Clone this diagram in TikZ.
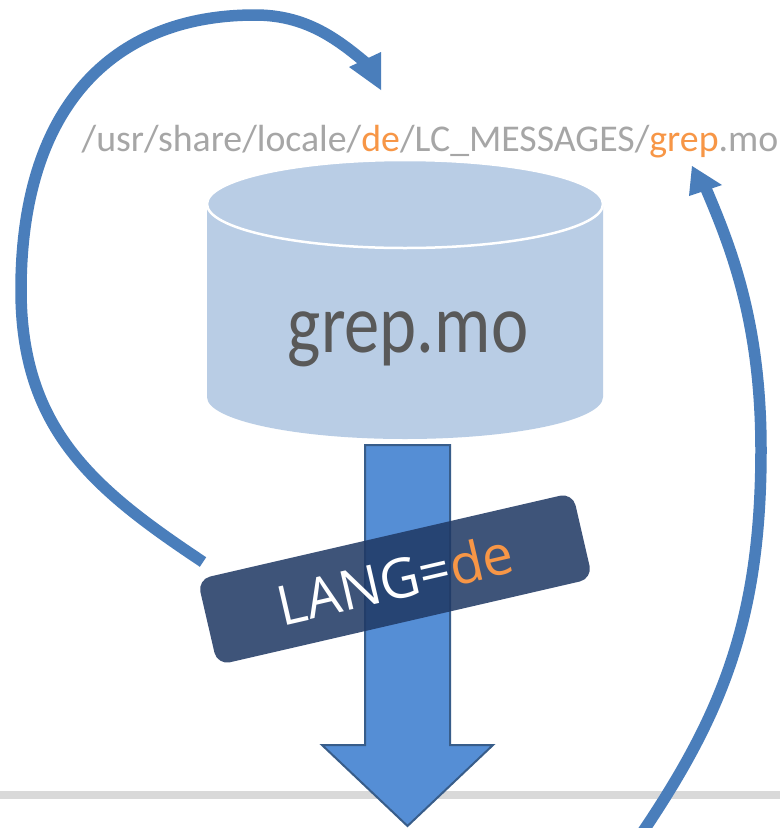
\documentclass[tikz,border=0pt]{standalone}
\usepackage{fontspec}
\setmainfont{Carlito}
\newfontfamily\tagfont{Open Sans}
\usetikzlibrary{shapes.misc}
\definecolor{arcblue}{RGB}{74,126,187}
\definecolor{cylblue}{RGB}{185,205,229}
\definecolor{pathgray}{RGB}{166,166,166}
\definecolor{accent}{RGB}{247,150,70}
\definecolor{filegray}{RGB}{89,89,89}
\definecolor{shaftfill}{RGB}{85,142,213}
\definecolor{shaftline}{RGB}{56,93,138}
\definecolor{tagfill}{RGB}{31,56,100}
\definecolor{rulegray}{RGB}{217,217,217}
\begin{document}
\begin{tikzpicture}[x=1pt,y=1pt,
  arcline/.style={draw=arcblue, line width=11.5pt},
  arctip/.style={fill=arcblue},
  cylbody/.style={fill=cylblue},
  bigarrow/.style={fill=shaftfill, draw=shaftline, line width=2pt, line join=miter},
  tagbox/.style={rectangle, rounded corners=13pt, fill=tagfill, fill opacity=0.86, text opacity=1,
    minimum width=385pt, minimum height=88pt, inner sep=0pt, text=white,
    font=\tagfont\fontsize{55}{60}\selectfont}]
\useasboundingbox (0,0) rectangle (780,-828);
\fill[white] (0,0) rectangle (780,-828);
% floor rule
\fill[rulegray] (0,-791) rectangle (780,-799);
% cylinder
\fill[cylbody] (207,-204) -- (207,-397) arc[start angle=180, end angle=360, x radius=198pt, y radius=42pt] -- (603,-204) -- cycle;
\filldraw[cylbody, draw=white, line width=2.5pt] (405,-204) ellipse [x radius=198pt, y radius=44pt];
\node[anchor=base, inner sep=0pt, text=filegray, font=\fontsize{84}{90}\selectfont] (file) at (408,-352) {\scalebox{0.84}[1]{grep.mo}};
% path text
\node[anchor=base, inner sep=0pt, text=pathgray, font=\fontsize{37.8}{42}\selectfont] (path) at (430,-151)
  {/usr/share/locale/\textcolor{accent}{de}/LC\_MESSAGES/\textcolor{accent}{grep}.mo};
% big down arrow
\filldraw[bigarrow] (365,-445) -- (365,-745) -- (322,-745) -- (407.5,-826) -- (493,-745) -- (450,-745) -- (450,-445) -- cycle;
% tag
\node[tagbox, rotate=13] (tag) at (395,-579) {LANG=\textcolor{accent}{de}};
% left arc
\coordinate (lstart) at (203,-562);
\coordinate (lleft) at (21,-290);
\coordinate (ltop) at (255,-15);
\coordinate (lend) at (366,-63);
\draw[arcline] (lstart) .. controls (95,-490) and (21,-430) .. (lleft)
  .. controls (21,-110) and (110,-15) .. (ltop)
  .. controls (305,-15) and (336,-38) .. (lend);
\fill[arctip] (381,-90) -- (349,-67) -- (381,-52) -- cycle;
% right arc
\coordinate (rstart) at (640,-836);
\coordinate (rright) at (761,-450);
\coordinate (rend) at (704,-184);
\draw[arcline] (rstart) .. controls (722,-715) and (761,-620) .. (rright)
  .. controls (761,-320) and (730,-245) .. (rend);
\fill[arctip] (692,-166) -- (689,-196) -- (722,-185) -- cycle;
\end{tikzpicture}
\end{document}
